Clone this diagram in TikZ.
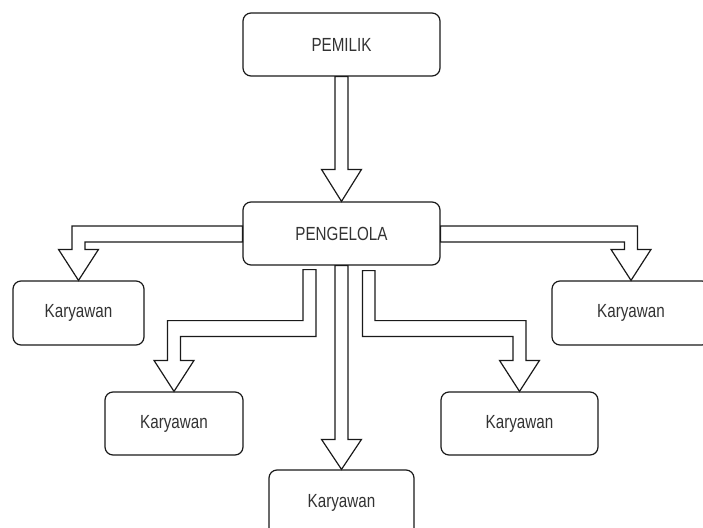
\documentclass[tikz,border=0pt]{standalone}
\usepackage{fontspec}
\setmainfont{Liberation Sans}
\usetikzlibrary{calc}
\definecolor{txt}{HTML}{333333}
\definecolor{ln}{HTML}{1A1A1A}
\newcommand{\lbl}[1]{\scalebox{0.8}[1]{\fontsize{19}{22}\selectfont #1}}
\tikzset{
  box/.style={draw=ln, line width=1.2pt, rounded corners=8pt, fill=white, text=txt, inner sep=0pt},
  fat/.style={draw=ln, line width=1.2pt, fill=white, line join=miter}
}
\begin{document}
\begin{tikzpicture}[x=1pt,y=-1pt]
\useasboundingbox (0,0) rectangle (703,527);
\clip (0,0) rectangle (703,527);
% boxes
\node[box, minimum width=197pt, minimum height=63pt] (pemilik) at (341.5,44.5) {\lbl{PEMILIK}};
\node[box, minimum width=197pt, minimum height=63pt] (pengelola) at (341.5,233.5) {\lbl{PENGELOLA}};
\node[box, minimum width=131pt, minimum height=64pt] (k1) at (78.5,313) {\lbl{Karyawan}};
\node[box, minimum width=138pt, minimum height=63pt] (k2) at (174,423.5) {\lbl{Karyawan}};
\node[box, minimum width=145pt, minimum height=66pt] (k3) at (341.5,503) {\lbl{Karyawan}};
\node[box, minimum width=158pt, minimum height=64pt] (k4) at (631,313) {\lbl{Karyawan}};
\node[box, minimum width=157pt, minimum height=63pt] (k5) at (519.5,423.5) {\lbl{Karyawan}};
% fat arrows
\draw[fat] ($(pemilik.south)+(-6.5,0)$) -- ($(pengelola.north)+(-6.5,-32)$) -- ++(-13.5,0)
  -- (pengelola.north) -- ++(20,-32) -- ++(-13.5,0) -- ($(pemilik.south)+(6.5,0)$) -- cycle;
\draw[fat] ($(pengelola.west)+(0,-7.5)$) -| ($(k1.north)+(-6.5,-31)$) -- ++(-13.5,0)
  -- (k1.north) -- ++(20,-31) -- ++(-13.5,0) |- ($(pengelola.west)+(0,8.5)$) -- cycle;
\draw[fat] ($(pengelola.east)+(0,-7.5)$) -| ($(k4.north)+(6.5,-31)$) -- ++(13.5,0)
  -- (k4.north) -- ++(-20,-31) -- ++(13.5,0) |- ($(pengelola.east)+(0,8.5)$) -- cycle;
\draw[fat] ($(pengelola.south)+(-38.5,4)$) -- ++(13,0) |- ($(k2.north)+(6.5,-55)$) -- ++(0,24)
  -- ++(13.5,0) -- (k2.north) -- ++(-20,-31) -- ++(13.5,0) |- ($(pengelola.south)+(-38.5,55)$) -- cycle;
\draw[fat] ($(pengelola.south)+(-6.5,0)$) -- ($(k3.north)+(-6.5,-30)$) -- ++(-13.5,0)
  -- (k3.north) -- ++(20,-30) -- ++(-13.5,0) -- ($(pengelola.south)+(6.5,0)$) -- cycle;
\draw[fat] ($(pengelola.south)+(33.5,5)$) -- ++(-12.5,0) |- ($(k5.north)+(-6.5,-55)$) -- ++(0,24)
  -- ++(-13.5,0) -- (k5.north) -- ++(20,-31) -- ++(-13.5,0) |- ($(pengelola.south)+(33.5,55)$) -- cycle;
\end{tikzpicture}
\end{document}
